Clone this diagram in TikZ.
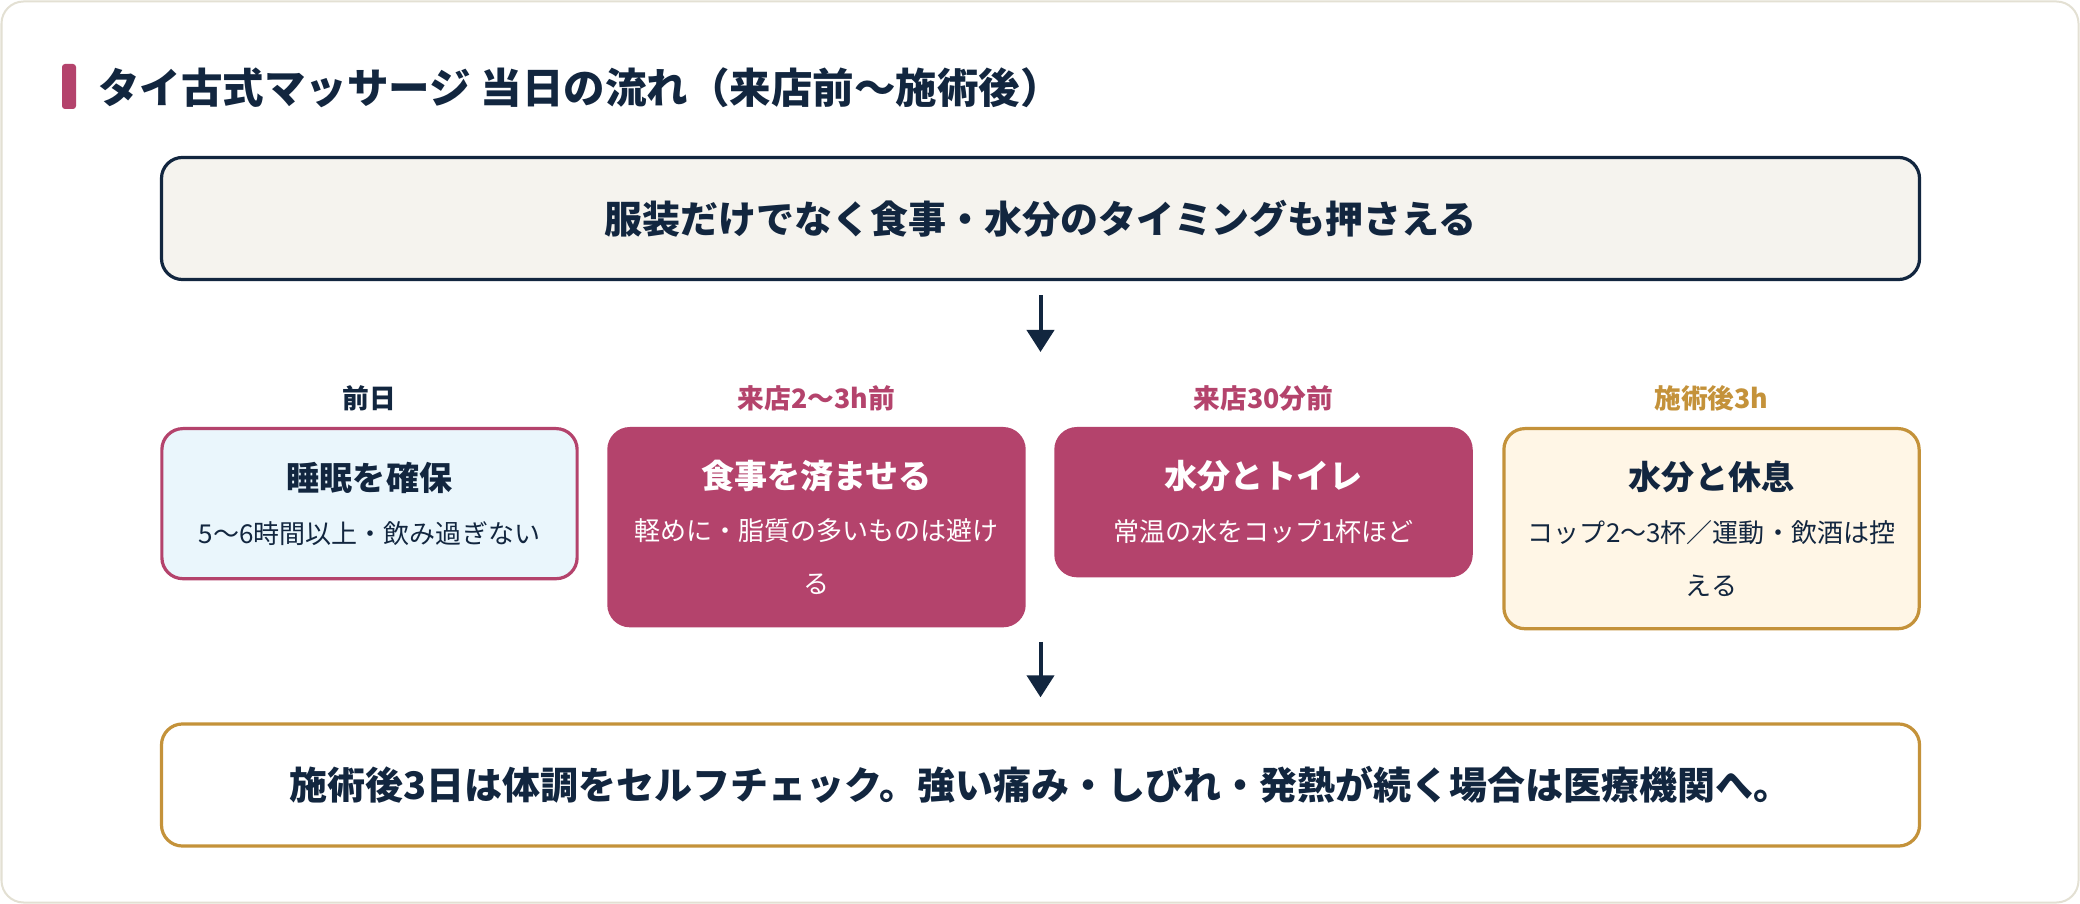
\documentclass[tikz,border=0pt]{standalone}
\usepackage{fontspec}
\setmainfont{Noto Sans CJK JP}
\usepackage{xcolor}
\usepackage{tikz}
\usetikzlibrary{positioning,arrows.meta}
\definecolor{navy}{HTML}{12263F}
\definecolor{plum}{HTML}{B4436C}
\definecolor{ochre}{HTML}{C4923A}
\definecolor{icefill}{HTML}{EAF6FC}
\definecolor{creamfill}{HTML}{FFF6E6}
\definecolor{paperfill}{HTML}{F5F3EE}
\definecolor{cardline}{HTML}{E3E0D3}

\begin{document}
\begin{tikzpicture}[x=0.01cm,y=-0.01cm,
every node/.style={font=\fontsize{7.4}{15}\selectfont,text=navy}, box/.style={draw,rounded corners=0.21cm,align=center,
line width=0.32mm,minimum width=4.15cm,anchor=north,inner sep=0pt}, wide/.style={box,anchor=center,minimum width=17.57cm,
minimum height=1.22cm,font=\fontsize{10.8}{13}\selectfont\bfseries}, lbl/.style={font=\fontsize{7.6}{9}\selectfont\bfseries},
head/.style={font=\fontsize{9.4}{15}\selectfont\bfseries}, arr/.style={-{Triangle[width=2.7mm,length=2.2mm]},line width=0.4mm,draw=navy}]
\useasboundingbox (0,0) rectangle (2080,904);
\draw[cardline,line width=0.2mm,fill=white,rounded corners=0.22cm] (1.5,1.5) rectangle (2078.5,902.5);

\fill[plum,rounded corners=0.03cm] (62,64) rectangle (76,109);
\node[anchor=west,font=\fontsize{11.8}{14}\selectfont\bfseries] (title) at (86,88) {タイ古式マッサージ 当日の流れ（来店前～施術後）};

\node[wide,draw=navy,fill=paperfill] (intro) at (1040.5,218.5) {服装だけでなく食事・水分のタイミングも押さえる};
\coordinate (introtip) at (1040.5,352);
\draw[arr,shorten <=0.14cm] (intro) -- (introtip);

\node[lbl] (dayA) at (369.5,398) {前日};
\node[lbl,text=plum] (dayB) at (816.5,398) {来店2〜3h前};
\node[lbl,text=plum] (dayC) at (1263.5,398) {来店30分前};
\node[lbl,text=ochre] (dayD) at (1711.5,398) {施術後3h};

\node[box,draw=plum,fill=icefill,minimum height=1.5cm] (sleep) at (369.5,427) {{\fontsize{9.4}{15}\selectfont\bfseries 睡眠を確保}\\5〜6時間以上・飲み過ぎない};
\node[box,draw=plum,fill=plum,text=white,minimum height=1.97cm] (meal) at (816.5,427) {{\fontsize{9.4}{15}\selectfont\bfseries 食事を済ませる}\\軽めに・脂質の多いものは避け\\る};
\node[box,draw=plum,fill=plum,text=white,minimum height=1.47cm] (water) at (1263.5,427) {{\fontsize{9.4}{15}\selectfont\bfseries 水分とトイレ}\\常温の水をコップ1杯ほど};
\node[box,draw=ochre,fill=creamfill,minimum height=2.0cm] (rest) at (1711.5,427) {{\fontsize{9.4}{15}\selectfont\bfseries 水分と休息}\\コップ2〜3杯／運動・飲酒は控\\える};

\node[wide,draw=ochre,fill=white] (check) at (1040.5,785) {施術後3日は体調をセルフチェック。強い痛み・しびれ・発熱が続く場合は医療機関へ。};
\coordinate (checkfrom) at (1040.5,642);
\draw[arr,shorten >=0.25cm] (checkfrom) -- (check);
\end{tikzpicture}
\end{document}
